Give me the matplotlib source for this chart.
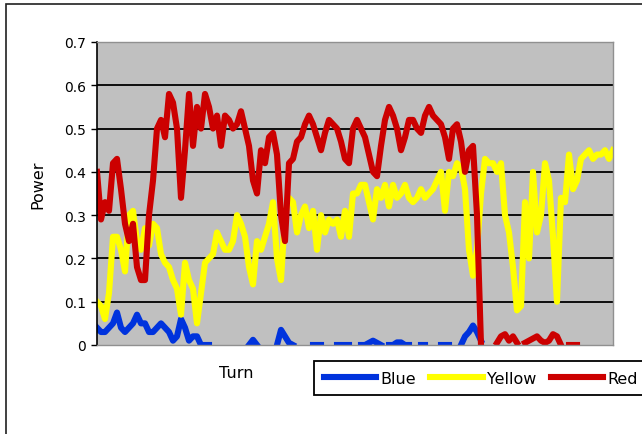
import numpy as np
import matplotlib
matplotlib.use("Agg")
import matplotlib.pyplot as plt
from matplotlib.patches import Rectangle

nan = np.nan

plt.rcParams['font.family'] = ['DejaVu Sans']

# power per turn (one value every 2 turns)
blue = [0.04, 0.03, 0.03, 0.04, 0.05, 0.075, 0.04, 0.03, 0.04, 0.05,
        0.07, 0.05, 0.05, 0.03, 0.03, 0.04, 0.05, 0.04, 0.03, 0.01,
        0.02, 0.06, 0.04, 0.01, 0.02, 0.02, 0.0, 0.0, 0.0, nan,
        nan, nan, nan, nan, nan, nan, nan, nan, 0.0, 0.012,
        0.0, nan, nan, nan, nan, 0.0, 0.035, 0.02, 0.005, 0.0,
        nan, nan, nan, nan, 0.0, 0.0, 0.0, nan, nan, nan,
        0.0, 0.0, 0.0, 0.0, nan, nan, 0.0, 0.0, 0.005, 0.01,
        0.005, 0.0, nan, 0.0, 0.0, 0.006, 0.006, 0.0, 0.0, nan,
        nan, 0.0, 0.0, nan, nan, nan, 0.0, 0.0, 0.0, nan,
        nan, 0.0, 0.02, 0.03, 0.045, 0.03, 0.01, nan, nan, nan,
        nan, nan, nan, nan, nan, nan, nan, nan, nan, nan,
        nan, nan, nan, nan, nan, nan, nan, nan, nan, nan,
        nan, nan, nan, nan, nan, nan, nan, nan, nan, nan]

yellow = [0.10, 0.09, 0.06, 0.12, 0.25, 0.25, 0.22, 0.17, 0.30, 0.31,
          0.24, 0.22, 0.27, 0.23, 0.28, 0.27, 0.21, 0.19, 0.18, 0.15,
          0.13, 0.07, 0.19, 0.15, 0.13, 0.05, 0.12, 0.19, 0.20, 0.21,
          0.26, 0.24, 0.22, 0.22, 0.24, 0.30, 0.28, 0.25, 0.18, 0.14,
          0.24, 0.22, 0.25, 0.28, 0.33, 0.20, 0.15, 0.30, 0.34, 0.33,
          0.26, 0.30, 0.32, 0.27, 0.31, 0.22, 0.30, 0.26, 0.29, 0.28,
          0.29, 0.25, 0.31, 0.25, 0.35, 0.35, 0.37, 0.37, 0.33, 0.29,
          0.36, 0.34, 0.37, 0.32, 0.37, 0.34, 0.35, 0.37, 0.34, 0.33,
          0.34, 0.36, 0.34, 0.35, 0.36, 0.38, 0.40, 0.31, 0.40, 0.39,
          0.42, 0.41, 0.36, 0.22, 0.16, 0.22, 0.35, 0.43, 0.42, 0.42,
          0.40, 0.42, 0.30, 0.26, 0.18, 0.08, 0.09, 0.33, 0.20, 0.40,
          0.26, 0.30, 0.42, 0.38, 0.25, 0.10, 0.34, 0.33, 0.44, 0.36,
          0.38, 0.43, 0.44, 0.45, 0.43, 0.44, 0.44, 0.45, 0.43, 0.45]

red = [0.40, 0.29, 0.33, 0.31, 0.42, 0.43, 0.36, 0.28, 0.24, 0.28,
       0.18, 0.15, 0.15, 0.30, 0.38, 0.50, 0.52, 0.48, 0.58, 0.56,
       0.50, 0.34, 0.45, 0.58, 0.46, 0.55, 0.50, 0.58, 0.55, 0.50,
       0.53, 0.46, 0.53, 0.52, 0.50, 0.51, 0.54, 0.50, 0.46, 0.38,
       0.35, 0.45, 0.42, 0.48, 0.49, 0.44, 0.30, 0.24, 0.42, 0.43,
       0.47, 0.48, 0.51, 0.53, 0.51, 0.48, 0.45, 0.49, 0.52, 0.51,
       0.50, 0.47, 0.43, 0.42, 0.50, 0.52, 0.50, 0.48, 0.44, 0.40,
       0.39, 0.46, 0.52, 0.55, 0.53, 0.50, 0.45, 0.48, 0.52, 0.52,
       0.50, 0.49, 0.53, 0.55, 0.53, 0.52, 0.51, 0.48, 0.43, 0.50,
       0.51, 0.47, 0.40, 0.45, 0.46, 0.30, 0.0, nan, nan, nan,
       0.005, 0.02, 0.025, 0.01, 0.02, 0.005, nan, 0.005, 0.01, 0.015,
       0.02, 0.01, 0.005, 0.01, 0.025, 0.02, 0.0, nan, 0.0, 0.0,
       0.0, nan, nan, nan, nan, nan, nan, nan, nan, nan]

turns = np.arange(len(yellow)) * 2

fig = plt.figure(figsize=(6.42, 4.35), dpi=100)
ax = fig.add_axes([97 / 642, 89 / 435, 516 / 642, 303 / 435])
ax.set_facecolor('#c0c0c0')

ax.plot(turns, blue, color='#0033dd', lw=4.4, label='Blue', solid_joinstyle='round')
ax.plot(turns, yellow, color='#ffff00', lw=4.4, label='Yellow', solid_joinstyle='round')
ax.plot(turns, red, color='#cc0000', lw=4.4, label='Red', solid_joinstyle='round')

ax.set_xlim(turns[0], turns[-1])
ax.set_ylim(0, 0.7)
ax.set_yticks(np.arange(0, 0.71, 0.1))
ax.set_yticklabels(['%g' % round(t, 1) for t in np.arange(0, 0.71, 0.1)])
ax.set_xticks([])
ax.tick_params(axis='y', direction='out', length=4, width=1, pad=4, labelsize=10)

ax.grid(axis='y', color='black', lw=1.3)
ax.set_axisbelow(True)
gl = ax.get_ygridlines()
gl[0].set_visible(False)
gl[-1].set_visible(False)

for side in ['top', 'right', 'bottom']:
    ax.spines[side].set_color('#909090')
    ax.spines[side].set_linewidth(1)
ax.spines['left'].set_color('black')
ax.spines['left'].set_linewidth(1.2)

fig.text(38 / 642, 1 - 185 / 435, 'Power', rotation=90, ha='center', va='center', fontsize=11.5)
fig.text(236 / 642, 1 - 374 / 435, 'Turn', ha='center', va='center', fontsize=11.5)

leg = ax.legend(loc='upper left', bbox_to_anchor=(314 / 642, 1 - 362 / 435),
                bbox_transform=fig.transFigure, ncol=3, fontsize=11.5,
                handlelength=3.3, handletextpad=0.25, columnspacing=0.9,
                borderpad=0.6, borderaxespad=0, fancybox=False, framealpha=1)
leg.get_frame().set_edgecolor('black')
leg.get_frame().set_linewidth(1.3)

fig.patches.append(Rectangle((6 / 642, -0.1), 1.2, 1.1 - 5 / 435, transform=fig.transFigure,
                             fill=False, edgecolor='#202020', lw=1.2))

fig.savefig('out.png', dpi=100)
